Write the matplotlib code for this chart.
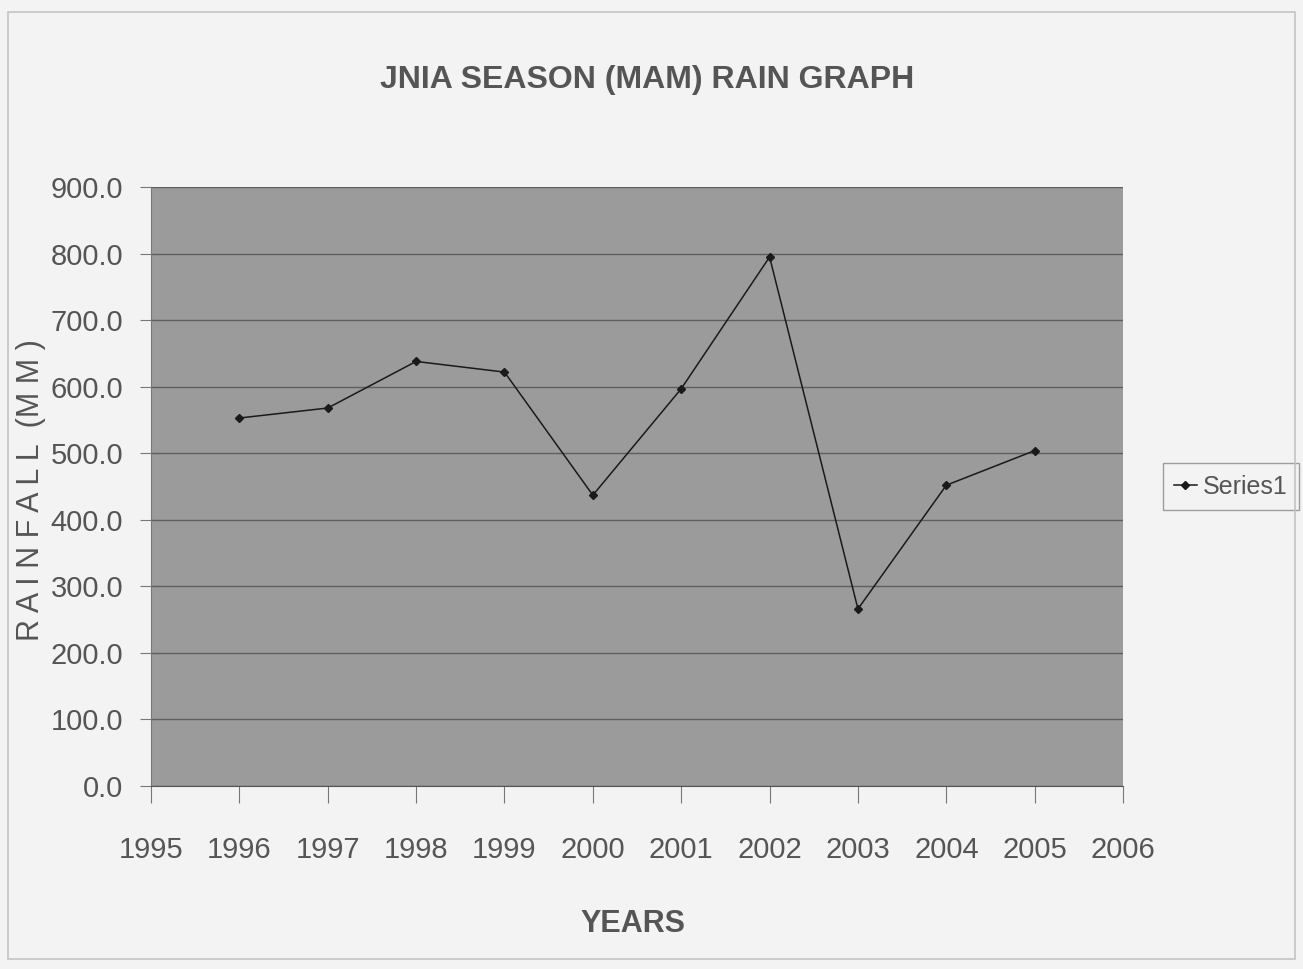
import matplotlib
matplotlib.use("Agg")
import matplotlib.pyplot as plt
from matplotlib.patches import Rectangle

years = [1996, 1997, 1998, 1999, 2000, 2001, 2002, 2003, 2004, 2005]
rainfall = [553, 568, 638, 622, 437, 597, 795, 266, 452, 504]
xticks = list(range(1995, 2007))
yticks = [0, 100, 200, 300, 400, 500, 600, 700, 800, 900]

plt.rcParams["font.family"] = ["Liberation Sans", "DejaVu Sans"]
TXT = "#555555"

fig = plt.figure(figsize=(13.03, 9.69), dpi=100, facecolor="#f3f3f3")
# thin frame round the whole chart
fig.add_artist(Rectangle((0.006, 0.01), 0.988, 0.978, transform=fig.transFigure,
                         fill=False, edgecolor="#c4c4c4", lw=1.2))

ax = fig.add_axes([0.1159, 0.1889, 0.746, 0.618])
ax.set_facecolor("#9b9b9b")

ax.plot(years, rainfall, color="#1a1a1a", lw=1.1, marker="D", ms=4,
        mfc="#1a1a1a", mec="#1a1a1a", label="Series1")

ax.set_xlim(1995, 2006)
ax.set_ylim(0, 900)
ax.set_xticks(xticks)
ax.set_yticks(yticks)
ax.set_yticklabels([f"{v:.1f}" for v in yticks])
ax.grid(axis="y", color="#5e5e5e", lw=1.0)
ax.set_axisbelow(True)

for s in ["top", "right"]:
    ax.spines[s].set_visible(False)
ax.spines["left"].set_color("#777777")
ax.spines["bottom"].set_color("#555555")
ax.tick_params(axis="x", length=12, color="#777777", labelsize=21,
               labelcolor=TXT, pad=24)
ax.tick_params(axis="y", length=8, color="#777777", labelsize=21,
               labelcolor=TXT, pad=12)

ax.set_ylabel("R A I N F A L L  (M M )", fontsize=22, color=TXT)
ax.yaxis.set_label_coords(-0.108, 0.494)
ax.set_xlabel("YEARS", fontsize=22, fontweight="bold", color=TXT)
ax.xaxis.set_label_coords(0.496, -0.205)
fig.text(0.497, 0.917, "JNIA SEASON (MAM) RAIN GRAPH", ha="center", va="center",
         fontsize=23, fontweight="bold", color=TXT)

leg = ax.legend(loc="center left", bbox_to_anchor=(1.041, 0.5), borderaxespad=0,
                fontsize=18, frameon=True, fancybox=False, handlelength=0.9,
                handletextpad=0.25, borderpad=0.45, labelcolor=TXT)
leg.get_frame().set_edgecolor("#888888")
leg.get_frame().set_facecolor("#f3f3f3")

fig.savefig("out.png", dpi=100, facecolor=fig.get_facecolor())
